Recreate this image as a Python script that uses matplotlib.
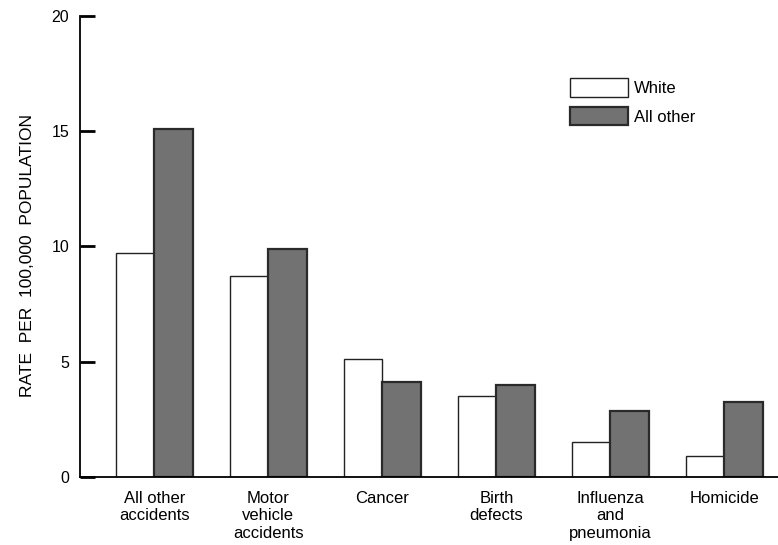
import matplotlib
matplotlib.use("Agg")
import matplotlib.pyplot as plt
import numpy as np

# Datos
categorias = ["All other\naccidents", "Motor\nvehicle\naccidents", "Cancer",
              "Birth\ndefects", "Influenza\nand\npneumonia", "Homicide"]
tasa_blancos = [9.7, 8.7, 5.1, 3.5, 1.5, 0.9]
tasa_otros = [15.1, 9.9, 4.1, 4.0, 2.85, 3.25]
yticks = [0, 5, 10, 15, 20]

plt.rcParams['font.family'] = ['Liberation Sans', 'DejaVu Sans']

fig = plt.figure(figsize=(7.78, 5.45), dpi=100)
ax = fig.add_axes([0.103, 0.125, 0.897, 0.846])

x = np.arange(len(categorias))
ancho = 0.338

ax.bar(x - ancho / 2, tasa_blancos, width=ancho, facecolor='white',
       edgecolor='#222222', linewidth=1.0, label='White')
ax.bar(x + ancho / 2, tasa_otros, width=ancho, facecolor='#727272',
       edgecolor='#2a2a2a', linewidth=1.6, label='All other')

ax.set_xlim(-0.65, 5.47)
ax.set_ylim(0, 20)

# Ejes: solo izquierda y abajo
ax.spines['top'].set_visible(False)
ax.spines['right'].set_visible(False)
ax.spines['left'].set_linewidth(1.3)
ax.spines['bottom'].set_linewidth(1.3)

ax.set_yticks(yticks)
ax.set_yticklabels([str(v) for v in yticks], fontsize=11.5)
ax.tick_params(axis='y', direction='in', length=11, width=2, pad=8)

ax.set_xticks(x)
ax.set_xticklabels(categorias, fontsize=12, linespacing=1.22)
ax.tick_params(axis='x', length=0, pad=10)

ax.set_ylabel('RATE  PER  100,000  POPULATION', fontsize=12.5)
ax.yaxis.set_label_coords(-0.065, 0.48)

ax.legend(loc='upper left', bbox_to_anchor=(0.702, 0.865), frameon=False,
          fontsize=12, handlelength=3.5, handleheight=1.35, labelspacing=0.6,
          handletextpad=0.35, borderpad=0, borderaxespad=0)

fig.savefig('out.png', dpi=100, facecolor='white')
